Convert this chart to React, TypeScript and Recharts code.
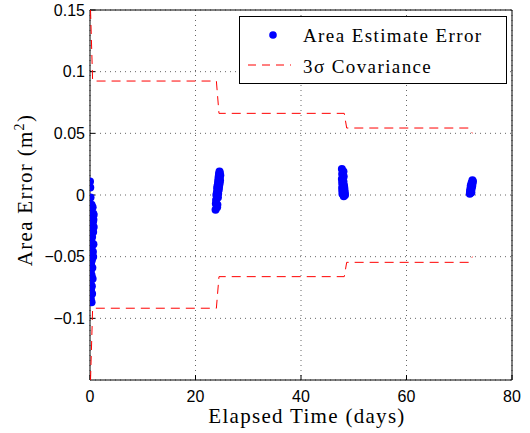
import React from 'react';
import { ScatterChart, Scatter, XAxis, YAxis, CartesianGrid, Legend, Label } from 'recharts';

// Cluster near day 0
const t0 = [0.0, 0.05, 0.1, 0.3, 0.5, 0.2, 0.6, 0.35, 0.15, 0.55, 0.7, 0.3, 0.45, 0.65, 0.15, 0.4, 0.6, 0.25, 0.45, 0.7, 0.3, 0.55, 0.1, 0.6, 0.35, 0.2, 0.65, 0.45, 0.15, 0.3, 0.5, 0.1, 0.35, 0.2, 0.4, 0.15, 0.3, 0.05, 0.1];
const e0 = [0.011, 0.006, -0.002, -0.008, -0.010, -0.013, -0.015, -0.018, -0.020, -0.022, -0.016, -0.025, -0.028, -0.020, -0.031, -0.034, -0.030, -0.037, -0.040, -0.026, -0.043, -0.046, -0.048, -0.050, -0.053, -0.056, -0.040, -0.059, -0.062, -0.065, -0.068, -0.071, -0.074, -0.077, -0.080, -0.084, -0.087, -0.082, -0.086];
// Cluster near day 24
const t1 = [23.8, 24.1, 23.85, 24.15, 23.9, 24.25, 23.95, 24.3, 24.05, 24.4, 24.1, 24.45, 24.15, 24.5, 24.25, 24.6, 24.3, 24.65, 24.35, 24.6, 24.4, 24.7, 24.45, 24.6, 24.55];
const e1 = [-0.012, -0.010, -0.007, -0.008, -0.004, -0.002, 0.000, 0.001, 0.002, 0.004, 0.005, 0.006, 0.007, 0.008, 0.009, 0.010, 0.011, 0.012, 0.013, 0.014, 0.015, 0.016, 0.017, 0.018, 0.019];
// Cluster near day 48
const t2 = [47.75, 48.05, 47.8, 48.1, 47.75, 48.05, 47.8, 48.15, 47.85, 48.2, 47.8, 48.25, 47.9, 48.3, 48.0, 48.35, 48.2, 47.9, 48.1, 47.85];
const e2 = [0.021, 0.019, 0.017, 0.015, 0.013, 0.011, 0.010, 0.008, 0.007, 0.006, 0.005, 0.004, 0.003, 0.002, 0.001, 0.000, 0.001, 0.003, -0.001, 0.001];
// Cluster near day 72
const t3 = [72.0, 72.3, 72.1, 72.35, 72.15, 72.45, 72.2, 72.5, 72.35, 72.6, 72.05, 72.5];
const e3 = [0.001, 0.002, 0.004, 0.005, 0.006, 0.007, 0.008, 0.009, 0.010, 0.011, 0.003, 0.012];

// 3-sigma covariance bounds
const covT = [0.1, 0.5, 23.96, 24.45, 48.2, 48.66, 71.9, 72.5];
const covUpper = [0.15, 0.0924, 0.0924, 0.0662, 0.0662, 0.0543, 0.0543, 0.050];
const covLower = [-0.15, -0.0918, -0.0918, -0.0662, -0.0662, -0.0546, -0.0546, -0.050];

const xTicks = [0, 20, 40, 60, 80];
const yTicks = [-0.1, -0.05, 0, 0.05, 0.1, 0.15];
const yTickLabels = ['\u22120.1', '\u22120.05', '0', '0.05', '0.1', '0.15'];

const seriesName = 'Area Estimate Error';
const covName = '3\u03c3 Covariance';
const xTitle = 'Elapsed Time (days)';
const yTitle = 'Area Error (m';

const points = [
  ...t0.map((t, i) => ({ t, v: e0[i] })),
  ...t1.map((t, i) => ({ t, v: e1[i] })),
  ...t2.map((t, i) => ({ t, v: e2[i] })),
  ...t3.map((t, i) => ({ t, v: e3[i] })),
];
const upper = covT.map((t, i) => ({ t, v: covUpper[i] }));
const lower = covT.map((t, i) => ({ t, v: covLower[i] }));

const SERIF = '"Liberation Serif", "DejaVu Serif", serif';
const SANS = '"Liberation Sans", Arial, sans-serif';
const DASH = '9 6';

const XTitle = () => (
  <text x={307} y={423} textAnchor="middle" fontFamily={SERIF} fontSize={21} fill="#000" style={{ letterSpacing: 1.3 }}>
    {xTitle}
  </text>
);

const YTitle = () => (
  <text transform="translate(32,190) rotate(-90)" textAnchor="middle" fontFamily={SERIF} fontSize={21} fill="#000" style={{ letterSpacing: 1.3 }}>
    {yTitle}
    <tspan fontSize={14} dy={-8}>2</tspan>
    <tspan dy={8}>)</tspan>
  </text>
);

const renderLegend = () => (
  <div style={{ width: 268, height: 68, border: '1.5px solid #000', background: '#fff', boxSizing: 'border-box', position: 'relative' }}>
    <svg width={268} height={68} style={{ position: 'absolute', left: -1.5, top: -1.5 }}>
      <circle cx={34} cy={19} r={3.8} fill="#0000ff" />
      <line x1={9} x2={52} y1={49} y2={49} stroke="#ff0000" strokeWidth={1} strokeDasharray="8 6" />
      <text x={64} y={26} fontFamily={SERIF} fontSize={19} fill="#000" style={{ letterSpacing: 1.4 }}>{seriesName}</text>
      <text x={64} y={57} fontFamily={SERIF} fontSize={19} fill="#000" style={{ letterSpacing: 1.4 }}>{covName}</text>
    </svg>
  </div>
);

const Dot = (p: any) => <circle cx={p.cx} cy={p.cy} r={4} fill="#0000ff" />;
const NoDot = () => <g />;

export default function App() {
  return (
    <div style={{ position: 'absolute', left: 0, top: 0, width: 530, height: 433, background: '#fff' }}>
      <ScatterChart width={530} height={433} margin={{ top: 9, right: 17, bottom: 0, left: 0 }}>
        <CartesianGrid stroke="#666" strokeDasharray="1 4" />
        <XAxis
          dataKey="t"
          type="number"
          domain={[0, 80]}
          ticks={xTicks}
          allowDataOverflow
          height={53}
          stroke="#000"
          tickSize={-5}
          tickMargin={16}
          tick={{ fill: '#000', fontFamily: SANS, fontSize: 16 }}
        >
          <Label content={XTitle} />
        </XAxis>
        <XAxis
          xAxisId="top"
          orientation="top"
          type="number"
          domain={[0, 80]}
          ticks={xTicks}
          allowDataOverflow
          height={1}
          stroke="#000"
          tickSize={-5}
          tick={false}
        />
        <YAxis
          dataKey="v"
          type="number"
          domain={[-0.15, 0.15]}
          ticks={yTicks}
          allowDataOverflow
          width={90}
          stroke="#000"
          tickSize={-5}
          tickMargin={10}
          tickFormatter={(v: number) => yTickLabels[yTicks.findIndex((y) => Math.abs(y - v) < 1e-9)] ?? String(v)}
          tick={{ fill: '#000', fontFamily: SANS, fontSize: 16 }}
        >
          <Label content={YTitle} />
        </YAxis>
        <YAxis
          yAxisId="right"
          orientation="right"
          type="number"
          domain={[-0.15, 0.15]}
          ticks={yTicks}
          allowDataOverflow
          width={1}
          stroke="#000"
          tickSize={-5}
          tick={false}
        />
        <Scatter name={covName} data={upper} line={{ stroke: '#ff0000', strokeWidth: 1, strokeDasharray: DASH }} shape={NoDot} isAnimationActive={false} />
        <Scatter name={covName} data={lower} line={{ stroke: '#ff0000', strokeWidth: 1, strokeDasharray: DASH }} shape={NoDot} isAnimationActive={false} />
        <Scatter name={seriesName} data={points} shape={Dot} fill="#0000ff" isAnimationActive={false} />
        <Legend
          content={renderLegend}
          layout="vertical"
          align="center"
          verticalAlign="middle"
          wrapperStyle={{ left: 239, top: 16, width: 268, height: 68 }}
        />
      </ScatterChart>
    </div>
  );
}
